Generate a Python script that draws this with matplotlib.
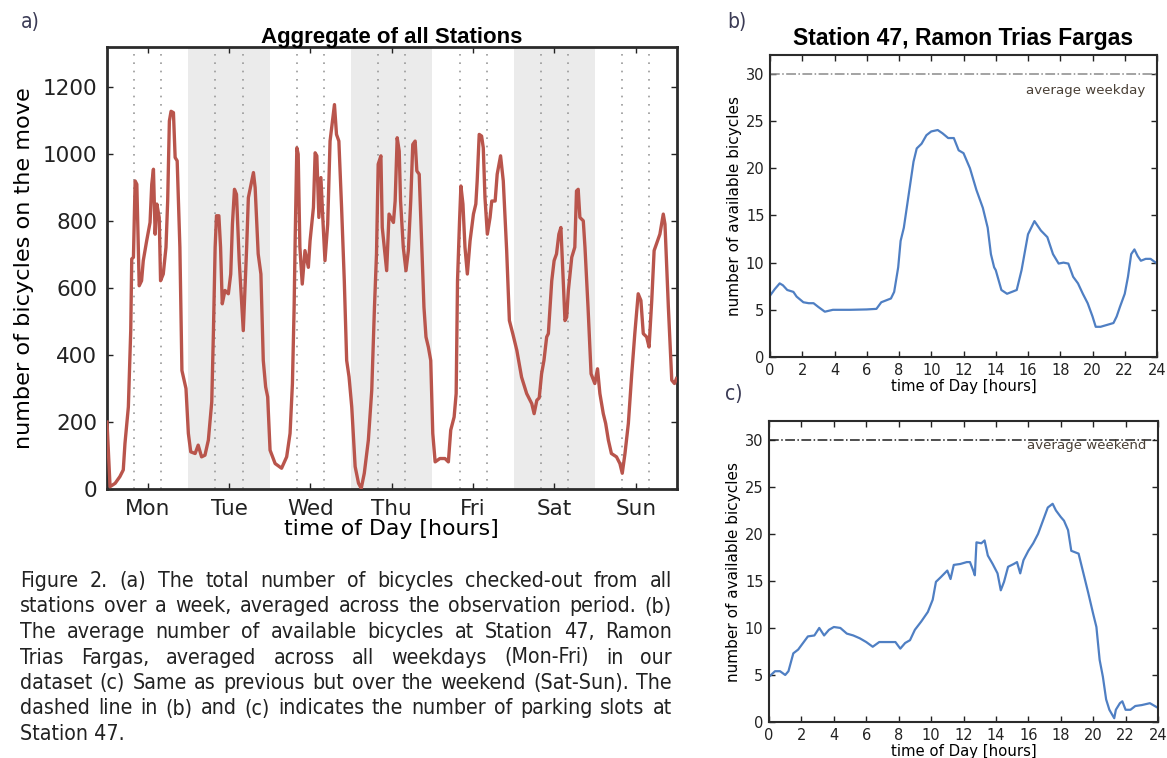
"""Bicycle usage figure: aggregate week plus station 47 weekday/weekend."""

import matplotlib

matplotlib.use("Agg")
import matplotlib.pyplot as plt

W, H = 1167, 758

DAYS = ["Mon", "Tue", "Wed", "Thu", "Fri", "Sat", "Sun"]
SHADED_DAYS = ["Tue", "Thu", "Sat"]
GUIDE_HOURS = [8, 16]

# aggregate of all stations, hours since Monday 00:00
agg_hours = [
    0, 0.9, 2.4, 3.8, 4.8, 5.3, 6.3, 7.0, 7.3, 7.8, 8.3, 8.8, 9.2, 9.5, 10.2,
    10.7, 11.7, 12.7, 13.2, 13.7, 14.2, 14.7, 15.4, 15.8, 16.6, 17.4, 17.9,
    18.4, 18.9, 19.6, 20.1, 20.7, 21.5, 22.1, 23.3, 24.0, 24.7, 26.0, 26.9,
    27.9, 28.9, 29.9, 30.9, 31.4, 31.9, 32.3, 33.0, 33.5, 34.0, 34.8, 35.8,
    36.5, 37.0, 37.6, 38.2, 39.0, 39.7, 40.2, 41.2, 41.7, 43.2, 43.7, 44.6,
    45.4, 46.1, 46.8, 47.4, 48.1, 49.6, 51.5, 53.0, 54.0, 54.7, 55.2, 55.5,
    56.0, 56.4, 56.9, 57.6, 58.4, 59.4, 59.9, 60.9, 61.4, 61.9, 62.5, 63.1,
    63.7, 64.3, 65.1, 65.8, 66.5, 67.1, 67.7, 68.4, 69.2, 70.0, 70.7, 71.4,
    72.2, 73.2, 74.2, 75.0, 75.9, 77.1, 78.1, 78.9, 79.5, 80.0, 80.8, 81.2,
    82.0, 82.5, 83.2, 84.5, 85.0, 85.6, 86.2, 86.6, 87.4, 88.2, 88.9, 89.6,
    90.2, 90.9, 91.4, 92.1, 92.8, 93.5, 94.1, 94.8, 95.5, 96.1, 96.8, 98.2,
    99.7, 100.7, 101.4, 102.4, 103.0, 103.4, 104.0, 104.4, 105.0, 105.6,
    106.3, 107.1, 108.1, 108.8, 109.2, 109.8, 110.5, 111.0, 111.5, 112.2,
    113.0, 113.5, 114.5, 115.1, 116.1, 116.9, 117.9, 118.7, 119.7, 120.9,
    122.3, 123.8, 125.3, 126.0, 126.8, 127.5, 128.2, 128.9, 129.7, 130.2,
    131.2, 131.9, 132.6, 133.3, 133.9, 134.6, 135.1, 135.6, 136.1, 137.1,
    138.0, 138.5, 139.0, 139.5, 140.5, 141.0, 141.9, 142.8, 143.9, 144.7,
    145.4, 146.4, 147.1, 147.9, 148.8, 150.3, 151.3, 152.0, 152.8, 153.8,
    154.8, 155.7, 156.7, 157.5, 158.2, 159.2, 159.9, 160.7, 161.4, 162.4,
    163.1, 164.1, 164.6, 165.6, 166.6, 167.4, 168.0,
]
agg_bikes = [
    200, 7, 17, 37, 57, 136, 245, 473, 687, 692, 920, 910, 741, 607, 622,
    682, 741, 796, 910, 955, 761, 851, 811, 622, 642, 722, 860,
    1099, 1128, 1124, 990, 980, 722, 354, 300, 166, 111, 106, 131,
    96, 101, 146, 260, 473, 722, 816, 816, 722, 553, 593, 583,
    642, 791, 895, 880, 682, 563, 473, 722, 870, 945, 900, 702,
    642, 384, 305, 275, 116, 76, 62, 96, 166, 315, 543, 741,
    1019, 1000, 722, 612, 712, 662, 741, 841, 1004, 995, 811, 930,
    801, 682, 791, 1039, 1099, 1148, 1059, 1039, 841, 622, 384, 335,
    245, 67, 17, 2, 47, 146, 295, 543, 702, 970, 995, 781,
    702, 652, 821, 796, 860, 1049, 1009, 860, 722, 652, 712, 860,
    1029, 1039, 950, 940, 741, 543, 454, 424, 384, 166, 81, 91,
    91, 81, 176, 215, 285, 622, 801, 905, 851, 722,
    642, 741, 821, 851, 920, 1059, 1054, 1019, 870, 761,
    811, 860, 860, 940, 995, 920, 712, 503, 464, 414,
    334, 285, 255, 225, 265, 272, 344, 384, 454, 464,
    622, 682, 702, 761, 781, 622, 503, 513, 593, 692,
    722, 890, 895, 811, 801, 722, 543, 344, 315, 359,
    285, 225, 196, 146, 106, 96, 76, 47, 106, 196,
    344, 464, 583, 563, 464, 454, 424, 563, 712, 741,
    761, 821, 791, 543, 325, 315, 330,
]

# station 47, average weekday
weekday_hours = [
    0.0, 0.3, 0.6, 0.8, 1.07, 1.45, 1.65, 2.07, 2.4, 2.7, 3.0, 3.4, 3.9, 4.96,
    6.0, 6.6, 6.9, 7.2, 7.5, 7.7, 7.95, 8.1, 8.3, 8.6, 8.9, 9.1, 9.4, 9.7,
    10.0, 10.4, 10.7, 11.05, 11.4, 11.7, 12.0, 12.4, 12.8, 13.2, 13.5, 13.7,
    13.9, 14.0, 14.35, 14.7, 15.0, 15.3, 15.6, 16.0, 16.4, 16.8, 17.2, 17.55,
    17.9, 18.2, 18.5, 18.8, 19.1, 19.4, 19.7, 20.0, 20.2, 20.5, 20.9, 21.3,
    21.5, 21.7, 22.0, 22.2, 22.4, 22.6, 22.8, 23.0, 23.3, 23.6, 24.0,
]
weekday_bikes = [
    6.5, 7.2, 7.8, 7.6, 7.1, 6.9, 6.4, 5.8, 5.7, 5.7, 5.3, 4.8, 5.0, 5.0,
    5.04, 5.1, 5.8, 6.0, 6.2, 6.9, 9.5, 12.3, 13.7, 17.2, 20.7, 22.1, 22.6, 23.5,
    23.9, 24.05, 23.7, 23.2, 23.2, 21.9, 21.6, 20.0, 17.7, 15.8, 13.7, 10.9,
    9.5, 9.2, 7.1, 6.7, 6.9, 7.1, 9.2, 13.0, 14.4, 13.4, 12.7, 10.9,
    9.9, 10.0, 9.9, 8.5, 7.8, 6.7, 5.7, 4.3, 3.2, 3.2, 3.4, 3.6,
    4.3, 5.3, 6.7, 8.5, 10.9, 11.4, 10.7, 10.2, 10.4, 10.4, 9.9,
]

# station 47, average weekend day
weekend_hours = [
    0.0, 0.37, 0.68, 1.0, 1.2, 1.5, 1.8, 2.1, 2.4, 2.8, 3.1, 3.4, 3.7, 4.0,
    4.4, 4.8, 5.2, 5.6, 6.0, 6.4, 6.8, 7.25, 7.8, 8.1, 8.4, 8.7, 9.0, 9.4,
    9.8, 10.1, 10.3, 10.6, 11.0, 11.2, 11.4, 11.8, 12.2, 12.4, 12.6, 12.7,
    12.8, 13.1, 13.3, 13.5, 13.8, 14.1, 14.3, 14.5, 14.75, 15.1, 15.3, 15.5,
    15.7, 16.0, 16.3, 16.6, 16.9, 17.2, 17.5, 17.7, 18.0, 18.2, 18.45, 18.65,
    19.1, 19.4, 19.7, 20.0, 20.2, 20.4, 20.6, 20.8, 21.0, 21.3, 21.4, 21.65,
    21.8, 22.0, 22.3, 22.6, 23.0, 23.5, 24.0,
]
weekend_bikes = [
    4.8, 5.4, 5.4, 5.0, 5.4, 7.3, 7.7, 8.4, 9.1, 9.2, 10.0, 9.2, 9.8, 10.1,
    10.0, 9.4, 9.2, 8.9, 8.5, 8.0, 8.5, 8.5, 8.5, 7.8, 8.4, 8.7, 9.8, 10.7,
    11.7, 13.0, 14.9, 15.4, 16.1, 15.2, 16.7, 16.8, 17.0, 17.0, 16.1, 15.6,
    19.1, 19.0, 19.3, 17.7, 16.8, 15.8, 14.0, 14.9, 16.5, 16.8, 17.0, 15.8,
    17.2, 18.2, 19.0, 20.0, 21.4, 22.8, 23.2, 22.5, 21.8, 21.4, 20.4, 18.2,
    17.9, 15.8, 13.7, 11.5, 10.1, 6.6, 4.8, 2.4, 1.3, 0.4, 1.3, 2.0,
    2.2, 1.3, 1.3, 1.7, 1.8, 2.0, 1.5,
]

PARKING_SLOTS = 30

CAPTION = [
    "Figure 2. (a) The total number of bicycles checked-out from all",
    "stations over a week, averaged across the observation period. (b)",
    "The average number of available bicycles at Station 47, Ramon",
    "Trias Fargas, averaged across all weekdays (Mon-Fri) in our",
    "dataset (c) Same as previous but over the weekend (Sat-Sun). The",
    "dashed line in (b) and (c) indicates the number of parking slots at",
    "Station 47.",
]

RED = "#b9554c"
BLUE = "#4f7fc3"
NARROW = dict(family=["Liberation Sans Narrow", "DejaVu Sans"],
              fontstretch="condensed")
TITLE = dict(family=["Liberation Sans", "DejaVu Sans"], weight="bold")


def box(left, top, right, bottom):
    # pixel box -> figure fraction rect
    return [left / W, 1 - bottom / H, (right - left) / W, (bottom - top) / H]


def style_axes(ax, spine_w):
    for s in ax.spines.values():
        s.set_linewidth(spine_w)
        s.set_color("#2b2b2b")


def justify(fig, lines, x0, x1, y0, dy, **kw):
    # the caption in the reference is set justified, emulate word by word
    renderer = fig.canvas.get_renderer()
    for i, line in enumerate(lines):
        y = 1 - (y0 + i * dy) / H
        words = line.split()
        if i == len(lines) - 1 or len(words) < 2:
            fig.text(x0 / W, y, line, va="baseline", **kw)
            continue
        texts = [fig.text(0, y, w, va="baseline", **kw) for w in words]
        widths = [t.get_window_extent(renderer).width for t in texts]
        gap = (x1 - x0 - sum(widths)) / (len(words) - 1)
        x = x0
        for t, w in zip(texts, widths):
            t.set_x(x / W)
            x += w + gap


fig = plt.figure(figsize=(W / 100, H / 100), dpi=100)

# a) aggregate of all stations
ax = fig.add_axes(box(107, 47, 676.5, 489))
for d in SHADED_DAYS:
    i = DAYS.index(d)
    ax.axvspan(24 * i, 24 * (i + 1), color="#ebebeb", lw=0, zorder=0)
for i in range(len(DAYS)):
    for hh in GUIDE_HOURS:
        ax.axvline(24 * i + hh, color="#9a9a9a", ls=(0, (1, 4)), lw=1.2, zorder=1)
ax.plot(agg_hours, agg_bikes, color=RED, lw=2.4, zorder=3)
ax.set_xlim(0, 24 * len(DAYS))
ax.set_ylim(0, 1320)
ax.set_xticks([24 * i + 12 for i in range(len(DAYS))], labels=DAYS)
ax.set_yticks(range(0, 1201, 200))
ax.tick_params(direction="in", top=True, right=True, length=4, width=1,
               labelsize=15.5, pad=7, colors="#222")
ax.set_xlabel("time of Day [hours]", fontsize=15.8, labelpad=0)
ax.set_ylabel("number of bicycles on the move", fontsize=16.1, labelpad=6)
ax.set_title("Aggregate of all Stations", fontsize=16, pad=3, **TITLE)
style_axes(ax, 2)


def station_panel(rect, hours, bikes, note, note_y, ref_color):
    axs = fig.add_axes(rect)
    axs.plot(hours, bikes, color=BLUE, lw=1.6)
    axs.axhline(PARKING_SLOTS, color=ref_color, ls="-.", lw=1.1)
    axs.set_xlim(0, 24)
    axs.set_ylim(0, 32)
    axs.set_xticks(range(0, 25, 2))
    axs.set_yticks(range(0, 31, 5))
    axs.tick_params(direction="in", top=True, right=True, length=4, width=1,
                    labelsize=10.5, pad=4, colors="#222")
    axs.set_xlabel("time of Day [hours]", fontsize=10.7, labelpad=1)
    axs.set_ylabel("number of available bicycles", fontsize=11, labelpad=3)
    axs.text(23.3, note_y, note, ha="right", va="center",
             fontsize=9.6, color="#4a4036")
    style_axes(axs, 1.5)
    return axs


ax_b = station_panel(box(770, 55, 1157, 357), weekday_hours, weekday_bikes,
                     "average weekday", 28.2, "#8a8a8a")
ax_b.set_title("Station 47, Ramon Trias Fargas", fontsize=16.5, pad=7, **TITLE)
ax_c = station_panel(box(769, 421, 1158, 722), weekend_hours, weekend_bikes,
                     "average weekend", 29.35, "#1e1e1e")

# panel letters
for label, px, py in [("a)", 21, 28), ("b)", 727, 28), ("c)", 725, 400)]:
    fig.text(px / W, 1 - py / H, label, fontsize=15, color="#3b3b55",
             va="baseline", **NARROW)

justify(fig, CAPTION, 20, 672, 587, 25.5, fontsize=15.3, color="#222222",
        **NARROW)

fig.savefig("out.png", dpi=100)
